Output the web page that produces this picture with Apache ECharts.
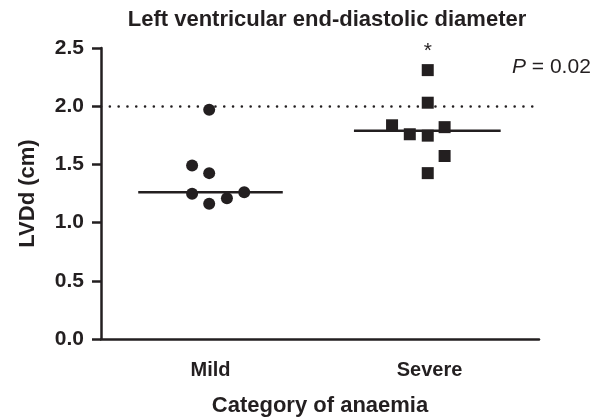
<!DOCTYPE html>
<html>
<head>
<meta charset="utf-8">
<script src="https://cdn.jsdelivr.net/npm/echarts@6/dist/echarts.min.js"></script>
<style>
    html, body {margin: 0; padding: 0; background: #ffffff;}
    #chart {width: 603px; height: 419px;}
</style>
</head>
<body>
<div id="chart"></div>
<script>
    // categories and tick labels
    const categories = ['Mild', 'Severe'];
    const yTicks = [0, 0.5, 1.0, 1.5, 2.0, 2.5];

    // individual measurements (x = category position with jitter, y = LVDd cm)
    const mildX = [0.994, 0.916, 0.994, 0.916, 0.994, 1.075, 1.154];
    const mildY = [1.97, 1.49, 1.425, 1.247, 1.161, 1.21, 1.261];
    const severeX = [1.992, 1.992, 1.829, 1.91, 1.992, 2.069, 2.069, 1.992];
    const severeY = [2.31, 2.03, 1.836, 1.759, 1.747, 1.82, 1.572, 1.425];

    // medians and the span of the median bars
    const mildMedian = 1.26;
    const severeMedian = 1.79;
    const mildMedianSpan = [0.67, 1.33];
    const severeMedianSpan = [1.655, 2.325];

    // reference line
    const cutOff = 2.0;

    const ink = '#231f20';
    const font = 'Liberation Sans, Arial, sans-serif';

    function pts(xs, ys) {
        return xs.map(function (x, i) {
            return [x, ys[i]];
        });
    }

    const severeData = pts(severeX, severeY).map(function (p, i) {
        if (i === 0) {
            return {
                value: p,
                label: {show: true, position: 'top', distance: 2, formatter: '*', color: ink, fontSize: 21, fontFamily: font}
            };
        }
        return p;
    });

    const myChart = echarts.init(document.getElementById('chart'));
    const option = {
        animation: false,
        backgroundColor: '#ffffff',
        title: {
            text: 'Left ventricular end-diastolic diameter',
            left: 322,
            textAlign: 'center',
            top: 4,
            textStyle: {fontSize: 22, fontWeight: 'bold', color: ink, fontFamily: font}
        },
        graphic: [{
            type: 'text',
            left: 512,
            top: 57,
            style: {
                text: '{i|P} = 0.02',
                rich: {i: {fontStyle: 'italic', fontSize: 21, fontFamily: font, fill: ink}},
                fontSize: 21,
                fontFamily: font,
                fill: ink
            }
        }],
        grid: {left: 101, right: 64, top: 48, bottom: 80, containLabel: false, outerBoundsMode: 'none'},
        xAxis: [{
            type: 'category',
            data: categories,
            name: 'Category of anaemia',
            nameLocation: 'middle',
            nameGap: 56,
            nameTextStyle: {fontSize: 22, fontWeight: 'bold', color: ink, fontFamily: font},
            axisLine: {lineStyle: {color: ink, width: 2.5}},
            axisTick: {alignWithLabel: true, length: 8, lineStyle: {color: ink, width: 2.5}},
            axisLabel: {margin: 21, fontSize: 20, fontWeight: 'bold', color: ink, fontFamily: font}
        }, {
            type: 'value',
            min: 0.5,
            max: 2.5,
            show: false
        }],
        yAxis: {
            type: 'value',
            min: 0,
            max: 2.5,
            interval: 0.5,
            name: 'LVDd (cm)',
            nameLocation: 'middle',
            nameGap: 62,
            nameTextStyle: {fontSize: 22, fontWeight: 'bold', color: ink, fontFamily: font},
            splitLine: {show: false},
            axisLine: {show: true, lineStyle: {color: ink, width: 2.5}},
            axisTick: {show: true, length: 9, lineStyle: {color: ink, width: 2.5}},
            axisLabel: {
                margin: 17,
                fontSize: 21,
                fontWeight: 'bold',
                color: ink,
                fontFamily: font,
                formatter: function (v) {
                    return yTicks.indexOf(v) >= 0 ? v.toFixed(1) : '';
                }
            }
        },
        series: [{
            name: 'cutoff',
            type: 'line',
            xAxisIndex: 1,
            data: [],
            markLine: {
                silent: true,
                symbol: 'none',
                label: {show: false},
                lineStyle: {color: ink, width: 2.5, type: [0.1, 8.7], cap: 'round'},
                data: [{yAxis: cutOff}]
            }
        }, {
            name: 'Mild median',
            type: 'line',
            xAxisIndex: 1,
            symbol: 'none',
            lineStyle: {color: ink, width: 2.5},
            data: [[mildMedianSpan[0], mildMedian], [mildMedianSpan[1], mildMedian]]
        }, {
            name: 'Severe median',
            type: 'line',
            xAxisIndex: 1,
            symbol: 'none',
            lineStyle: {color: ink, width: 2.5},
            data: [[severeMedianSpan[0], severeMedian], [severeMedianSpan[1], severeMedian]]
        }, {
            name: 'Mild',
            type: 'scatter',
            xAxisIndex: 1,
            symbol: 'circle',
            symbolSize: 12,
            itemStyle: {color: ink, opacity: 1},
            data: pts(mildX, mildY)
        }, {
            name: 'Severe',
            type: 'scatter',
            xAxisIndex: 1,
            symbol: 'rect',
            symbolSize: 12,
            itemStyle: {color: ink, opacity: 1},
            data: severeData
        }]
    };
    myChart.setOption(option);
</script>
</body>
</html>
